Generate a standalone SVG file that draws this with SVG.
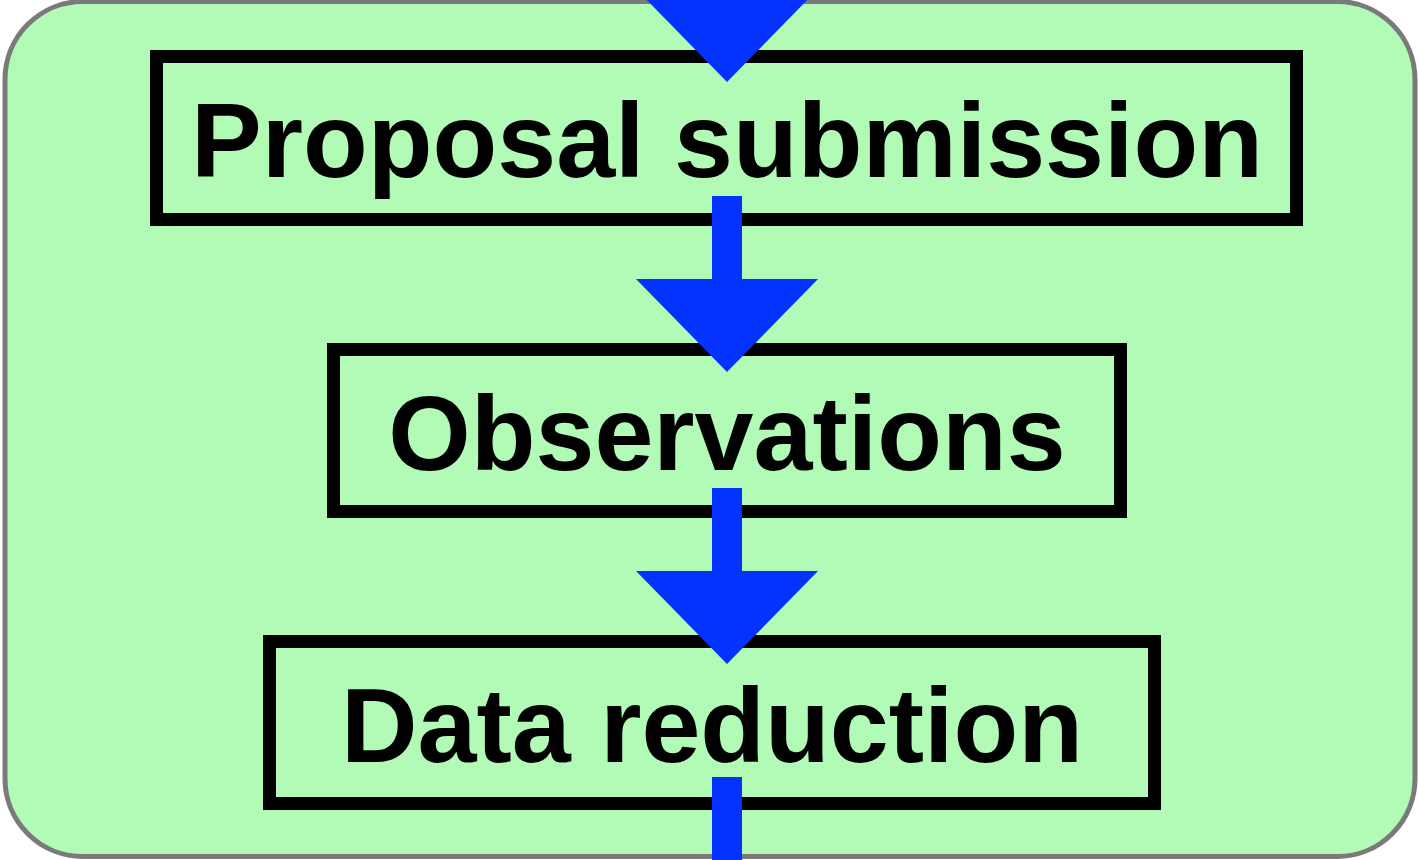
<svg xmlns="http://www.w3.org/2000/svg" width="1418" height="860" viewBox="0 0 1418 860">
  <style>
    .panel { fill: #b2fbb6; stroke: #7a7a7a; stroke-width: 5; }
    .box { fill: none; stroke: #000000; stroke-width: 13; }
    .label { font-family: "Liberation Sans", Arial, Helvetica, sans-serif; font-weight: bold; font-size: 106px; fill: #000000; text-anchor: middle; }
    .flow { fill: #0433ff; stroke: none; }
  </style>

  <!-- rounded background panel -->
  <rect class="panel" x="5" y="1.5" width="1410" height="855" rx="78" ry="78"/>

  <g id="proposal-submission">
    <rect class="box" x="156.5" y="56.5" width="1140" height="163"/>
    <text class="label" x="727" y="177">Proposal submission</text>
  </g>

  <g id="observations">
    <rect class="box" x="333.5" y="349.5" width="787" height="162"/>
    <text class="label" x="727" y="470">Observations</text>
  </g>

  <g id="data-reduction">
    <rect class="box" x="269.5" y="641.5" width="885" height="162"/>
    <text class="label" x="712" y="762">Data reduction</text>
  </g>

  <!-- block arrows drawn over the box borders -->
  <g id="connectors">
    <polygon class="flow" points="712,-40 742,-40 742,-11 818,-11 727,82 636,-11 712,-11"/>
    <polygon class="flow" points="712,196 742,196 742,279 818,279 727,372 636,279 712,279"/>
    <polygon class="flow" points="712,488 742,488 742,571 818,571 727,664 636,571 712,571"/>
    <polygon class="flow" points="712,777 742,777 742,870 712,870"/>
  </g>
</svg>
